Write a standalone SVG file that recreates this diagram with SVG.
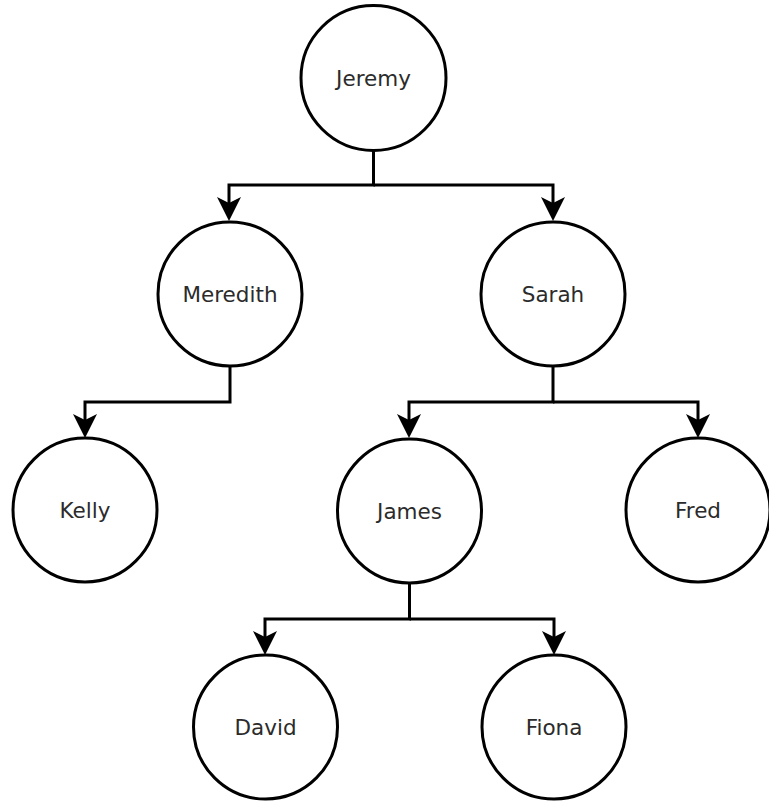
<svg xmlns="http://www.w3.org/2000/svg" width="769" height="803" viewBox="0 0 769 803">
<style>
.node circle{fill:#fff;stroke:#000;stroke-width:3}
.node text{font-family:"DejaVu Sans",sans-serif;font-size:21.5px;fill:#2b2b2b;text-anchor:middle}
.edge{fill:none;stroke:#000;stroke-width:3}
</style>
<defs>
<path id="ah" d="M-12,-24 L0,-18 L12,-24 L0,0 Z" fill="#000"/>
</defs>
<rect width="769" height="803" fill="#fff"/>
<g id="connectors">
<path class="edge" d="M373.5,150 V185 H229 V210"/>
<path class="edge" d="M373.5,185 H553 V210"/>
<path class="edge" d="M230,366 V402 H85 V427"/>
<path class="edge" d="M553,366 V402 H409 V427"/>
<path class="edge" d="M553,402 H698 V427"/>
<path class="edge" d="M409.5,583 V619 H265 V642"/>
<path class="edge" d="M409.5,619 H554 V642"/>
<use href="#ah" x="229" y="221"/>
<use href="#ah" x="553" y="221"/>
<use href="#ah" x="85" y="438"/>
<use href="#ah" x="409" y="438"/>
<use href="#ah" x="698" y="438"/>
<use href="#ah" x="265" y="655"/>
<use href="#ah" x="554" y="655"/>
</g>
<g id="jeremy" class="node"><circle cx="373.5" cy="78" r="72.5"/><text x="373.5" y="86">Jeremy</text></g>
<g id="meredith" class="node"><circle cx="230" cy="294" r="72"/><text x="230" y="302">Meredith</text></g>
<g id="sarah" class="node"><circle cx="553" cy="294" r="72"/><text x="553" y="302">Sarah</text></g>
<g id="kelly" class="node"><circle cx="85" cy="510" r="72"/><text x="85" y="518">Kelly</text></g>
<g id="james" class="node"><circle cx="409.5" cy="511" r="72"/><text x="409.5" y="519">James</text></g>
<g id="fred" class="node"><circle cx="698" cy="510" r="72"/><text x="698" y="518">Fred</text></g>
<g id="david" class="node"><circle cx="265.5" cy="727" r="72"/><text x="265.5" y="735">David</text></g>
<g id="fiona" class="node"><circle cx="554" cy="727" r="72"/><text x="554" y="735">Fiona</text></g>
</svg>
